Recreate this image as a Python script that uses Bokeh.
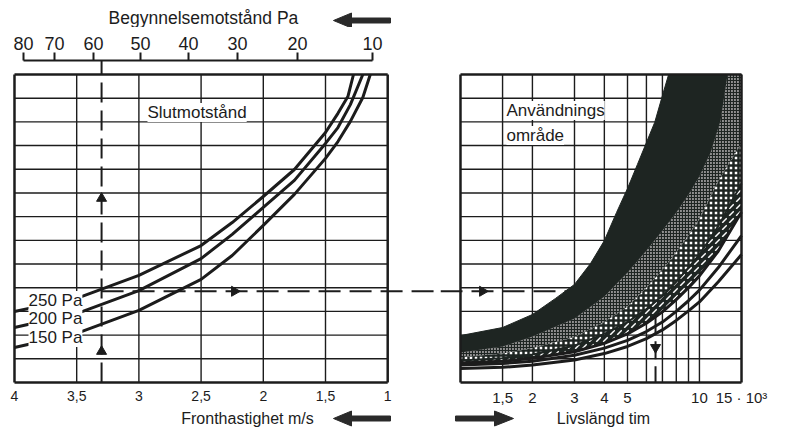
import math

from bokeh.plotting import figure
from bokeh.layouts import row, column
from bokeh.models import Range1d, LinearAxis, FixedTicker, Label, Spacer
from bokeh.core.properties import value
from bokeh.embed import file_html
from bokeh.resources import INLINE

FONT = "Liberation Sans"
INK = "#1c1c1c"
BAND = "#1e2522"
ARROW = "#2a2a2a"

# ---------------------------------------------------------------- data
# Left panel: front velocity (m/s) against resistance level (grid rows)
velocity_ticks = [4.0, 3.5, 3.0, 2.5, 2.0, 1.5, 1.0]
velocity_labels = ["4", "3,5", "3", "2,5", "2", "1,5", "1"]
velocity_grid = [3.5, 3.0, 2.5, 2.0, 1.5]

# initial pressure drop scale, placed at the velocity where each value applies
initial_pa_labels = ["80", "70", "60", "50", "40", "30", "20", "10"]
initial_pa_velocity = [3.928, 3.678, 3.365, 2.987, 2.601, 2.207, 1.725, 1.122]

level_rows = 13
level_grid = list(range(1, level_rows))

final_250_v = [4.0, 3.5, 3.0, 2.5, 2.25, 2.0, 1.75, 1.5, 1.4, 1.32, 1.275]
final_250_u = [3.00, 3.55, 4.52, 5.78, 6.75, 7.85, 8.99, 10.55, 11.36, 12.07, 13.0]
final_200_v = [4.0, 3.5, 3.0, 2.5, 2.25, 2.0, 1.75, 1.5, 1.4, 1.3, 1.2]
final_200_u = [2.32, 2.91, 3.88, 5.23, 6.25, 7.39, 8.53, 10.09, 10.76, 11.73, 13.0]
final_150_v = [4.0, 3.5, 3.0, 2.5, 2.25, 2.0, 1.75, 1.5, 1.4, 1.3, 1.2, 1.14]
final_150_u = [1.48, 2.07, 3.04, 4.35, 5.36, 6.63, 7.94, 9.46, 10.17, 11.02, 12.03, 13.0]
final_labels = ["250 Pa", "200 Pa", "150 Pa"]
final_label_u = [3.46, 2.70, 1.90]

# Right panel: service life (thousand hours, log scale)
life_ticks = [1.5, 2, 3, 4, 5, 10, 15]
life_labels = ["1,5", "2", "3", "4", "5", "10", "15 · 10³"]
life_grid = [1.5, 2, 3, 4, 5, 6, 7, 8, 9, 10]
life_min, life_max = 1.0, 15.0

life_a = [1.0, 1.5, 2.0, 2.5, 3.0, 3.5, 4.0, 4.5, 5.0, 5.5, 6.0, 6.5, 7.0, 7.43]
level_a = [1.98, 2.32, 2.87, 3.55, 4.14, 5.02, 5.99, 7.18, 8.19, 9.20, 10.13, 10.98, 12.11, 13.0]
life_b = [1.0, 1.5, 2.0, 3.0, 4.0, 5.0, 6.0, 7.0, 8.0, 9.0, 10.0, 11.13, 12.26, 13.11]
level_b = [1.27, 1.52, 1.94, 2.70, 3.63, 4.64, 5.57, 6.42, 7.18, 7.94, 8.70, 9.71, 11.06, 13.0]
life_cd = [1.0, 1.5, 2.0, 3.0, 4.0, 5.0, 6.0, 7.0, 8.0, 9.0, 10.0, 12.0, 15.0]
level_c = [1.06, 1.22, 1.45, 1.92, 2.55, 3.20, 4.00, 4.75, 5.50, 6.20, 6.90, 8.50, 10.10]
level_d = [0.93, 1.02, 1.18, 1.55, 2.05, 2.55, 3.10, 3.65, 4.25, 4.85, 5.40, 6.60, 8.40]
level_e = [0.82, 0.90, 1.02, 1.30, 1.65, 2.05, 2.50, 2.98, 3.50, 4.00, 4.50, 5.55, 7.20]
level_f = [0.74, 0.80, 0.90, 1.15, 1.45, 1.78, 2.15, 2.55, 3.00, 3.45, 3.90, 4.85, 6.20]
level_g = [0.59, 0.64, 0.74, 0.95, 1.22, 1.52, 1.85, 2.22, 2.62, 3.02, 3.40, 4.25, 5.40]

# worked example: 3.3 m/s, read across to about 6 500 h
example_velocity = 3.30
example_level = 3.85
example_life = 6.55
example_up_marks = [7.77, 1.31]
example_right_mark_v = 2.232
example_right_mark_h = 1.236
example_down_mark_u = 1.48

# ---------------------------------------------------------------- shared ranges
velocity_range = Range1d(4.016, 0.5756)
life_range = Range1d(0.8248, 15.29)
level_range = Range1d(-0.085, 13.591)

LEFT_W, RIGHT_W = 440, 350
TOP_H, MID_H, BOT_H = 27, 382, 20


def base(width, height, x_range, y_range, left_border, right_border, **kw):
    p = figure(width=width, height=height, x_range=x_range, y_range=y_range,
               toolbar_location=None, output_backend="svg",
               min_border_left=left_border, min_border_right=right_border, **kw)
    p.grid.visible = False
    p.outline_line_color = None
    p.background_fill_color = "white"
    p.border_fill_color = "white"
    return p


def arrow_shape(tail, base_, tip, y, shaft, head):
    xs = [tail, base_, base_, tip, base_, base_, tail]
    ys = [y + shaft, y + shaft, y + head, y, y - head, y - shaft, y - shaft]
    return xs, ys


def strip_text(p, x, y, text, size):
    p.text(x=[x], y=[y], text=[text], text_font=value(FONT), text_font_size=value(size),
           text_color=INK, text_align="center", text_baseline="middle")


def panel_label(p, x, y, text):
    p.add_layout(Label(x=x, y=y, text=text, text_font=FONT, text_font_size="17px",
                       text_color=INK, text_baseline="middle", text_align="left",
                       background_fill_color="white"))


# ---------------------------------------------------------------- top strip
top_left = base(LEFT_W, TOP_H, velocity_range, Range1d(-TOP_H / 2, TOP_H / 2), 12, 0,
                x_axis_location=None, y_axis_location=None, min_border_top=0,
                min_border_bottom=0)
strip_text(top_left, 2.481, -3.5, "Begynnelsemotstånd Pa", "17.5px")
ax_, ay_ = arrow_shape(0.9775, 1.291, 1.436, -6.5, 2.5, 7.5)
top_left.patch(ax_, ay_, fill_color=ARROW, line_color=ARROW)

# ---------------------------------------------------------------- left panel
left = base(LEFT_W, MID_H, velocity_range, level_range, 12, 0,
            y_axis_location=None, min_border_top=33, min_border_bottom=25)

xa = left.xaxis[0]
xa.ticker = FixedTicker(ticks=velocity_ticks)
xa.major_label_overrides = dict(zip(velocity_ticks, velocity_labels))
xa.axis_line_color = None
xa.major_tick_line_color = None
xa.minor_tick_line_color = None
xa.major_tick_out = 0
xa.major_tick_in = 0
xa.major_label_standoff = 6
xa.major_label_text_font = FONT
xa.major_label_text_font_size = "14px"
xa.major_label_text_color = INK

top = LinearAxis(ticker=FixedTicker(ticks=initial_pa_velocity),
                 major_label_overrides=dict(zip(initial_pa_velocity, initial_pa_labels)),
                 bounds=(min(initial_pa_velocity), max(initial_pa_velocity)),
                 axis_line_width=2, axis_line_color=INK,
                 major_tick_out=8, major_tick_in=0, major_tick_line_width=2,
                 major_tick_line_color=INK, minor_tick_line_color=None,
                 major_label_standoff=3,
                 major_label_text_font=FONT, major_label_text_font_size="18px",
                 major_label_text_color=INK)
left.add_layout(top, "above")

v_lo, v_hi = velocity_ticks[0], velocity_ticks[-1]
left.segment(x0=velocity_grid, y0=[0] * len(velocity_grid), x1=velocity_grid,
             y1=[level_rows] * len(velocity_grid), line_width=1.4, color=INK)
left.segment(x0=[v_lo] * len(level_grid), y0=level_grid, x1=[v_hi] * len(level_grid),
             y1=level_grid, line_width=1.4, color=INK)
left.segment(x0=[v_lo, v_hi, v_lo, v_lo], y0=[0, 0, 0, level_rows],
             x1=[v_lo, v_hi, v_hi, v_hi], y1=[level_rows, level_rows, 0, level_rows],
             line_width=2.5, color=INK)

# example guide lines
left.line([example_velocity, example_velocity], [0, level_range.end],
          line_dash="20 8", line_width=2, color=INK)
left.line([example_velocity, velocity_range.end], [example_level, example_level],
          line_dash="22 9", line_width=2, color=INK)

for vs, us in ((final_250_v, final_250_u), (final_200_v, final_200_u), (final_150_v, final_150_u)):
    left.line(vs, us, line_width=3, color=INK, line_join="round")

left.scatter([example_velocity] * 2, example_up_marks, marker="triangle", size=10, color=INK)
left.scatter([example_right_mark_v], [example_level], marker="triangle", size=10,
             angle=-math.pi / 2, color=INK)

for text, u in zip(final_labels, final_label_u):
    panel_label(left, 3.8875, u, text)
panel_label(left, 2.931, 11.40, "Slutmotstånd")

# ---------------------------------------------------------------- right panel
right = base(RIGHT_W, MID_H, life_range, level_range, 0, 47, x_axis_type="log",
             y_axis_location=None, min_border_top=33, min_border_bottom=25)

ra = right.xaxis[0]
ra.ticker = FixedTicker(ticks=life_ticks)
ra.major_label_overrides = dict(zip(life_ticks, life_labels))
ra.bounds = (life_min, life_max)
ra.axis_line_color = None
ra.major_tick_line_color = None
ra.minor_tick_line_color = None
ra.major_tick_out = 0
ra.major_tick_in = 0
ra.major_label_standoff = 4
ra.major_label_text_font = FONT
ra.major_label_text_font_size = "15px"
ra.major_label_text_color = INK

right.segment(x0=life_grid, y0=[0] * len(life_grid), x1=life_grid,
              y1=[level_rows] * len(life_grid), line_width=1.4, color=INK)
right.segment(x0=[life_min] * len(level_grid), y0=level_grid, x1=[life_max] * len(level_grid),
              y1=level_grid, line_width=1.4, color=INK)

right.line([life_range.start, example_life], [example_level, example_level],
           line_dash="22 9", line_width=2, color=INK)
right.line([example_life, example_life], [example_level, 0],
           line_dash="18 7", line_width=2, color=INK)

# application area: dark band between A and E, textured strips inside it
black_x = life_a + [life_max] + life_cd[::-1]
black_y = level_a + [level_rows] + level_e[::-1]
right.patch(black_x, black_y, fill_color=BAND, line_color=BAND, line_width=1)

fine_x = life_b + [life_max] + life_cd[::-1]
fine_y = level_b + [level_rows] + level_c[::-1]
right.patch(fine_x, fine_y, fill_color="#8f8f8f", hatch_pattern="+", hatch_color=BAND,
            hatch_scale=3, hatch_weight=1.2, line_color=None)

band_x = life_cd + life_cd[::-1]
right.patch(band_x, level_c + level_d[::-1], fill_color="white", hatch_pattern="+",
            hatch_color=BAND, hatch_scale=5, hatch_weight=2.5, line_color=None)
right.patch(band_x, level_d + level_e[::-1], fill_color=BAND, hatch_pattern=",",
            hatch_color="white", hatch_scale=7, hatch_weight=1.5, line_color=None)

right.line(life_cd, level_d, line_width=2, color=BAND)
for lv in (level_e, level_f, level_g):
    right.line(life_cd, lv, line_width=3, color=INK, line_join="round")

right.segment(x0=[life_min, life_max, life_min, life_min], y0=[0, 0, 0, level_rows],
              x1=[life_min, life_max, life_max, life_max], y1=[level_rows, level_rows, 0, level_rows],
              line_width=2.5, color=INK)

right.scatter([example_right_mark_h], [example_level], marker="triangle", size=10,
              angle=-math.pi / 2, color=INK)
right.scatter([example_life], [example_down_mark_u], marker="triangle", size=10,
              angle=math.pi, color=INK)

panel_label(right, 1.557, 11.48, "Användnings")
panel_label(right, 1.557, 10.43, "område")

# ---------------------------------------------------------------- bottom strip
strip_y = Range1d(-BOT_H / 2, BOT_H / 2)
bot_left = base(LEFT_W, BOT_H, velocity_range, strip_y, 12, 0,
                x_axis_location=None, y_axis_location=None, min_border_top=0,
                min_border_bottom=0)
strip_text(bot_left, 2.127, 1, "Fronthastighet m/s", "16px")
ax_, ay_ = arrow_shape(0.9775, 1.291, 1.436, 1, 2.5, 7.5)
bot_left.patch(ax_, ay_, fill_color=ARROW, line_color=ARROW)

bot_right = base(RIGHT_W, BOT_H, life_range, strip_y, 0, 47, x_axis_type="log",
                 x_axis_location=None, y_axis_location=None, min_border_top=0,
                 min_border_bottom=0)
strip_text(bot_right, 3.965, 1, "Livslängd tim", "16px")
ax_, ay_ = arrow_shape(0.953, 1.388, 1.667, 1, 2.5, 7.5)
bot_right.patch(ax_, ay_, fill_color=ARROW, line_color=ARROW)

layout = column(row(top_left, Spacer(width=RIGHT_W, height=TOP_H)),
                row(left, right),
                row(bot_left, bot_right))
open("out.html", "w").write(file_html(layout, INLINE))
